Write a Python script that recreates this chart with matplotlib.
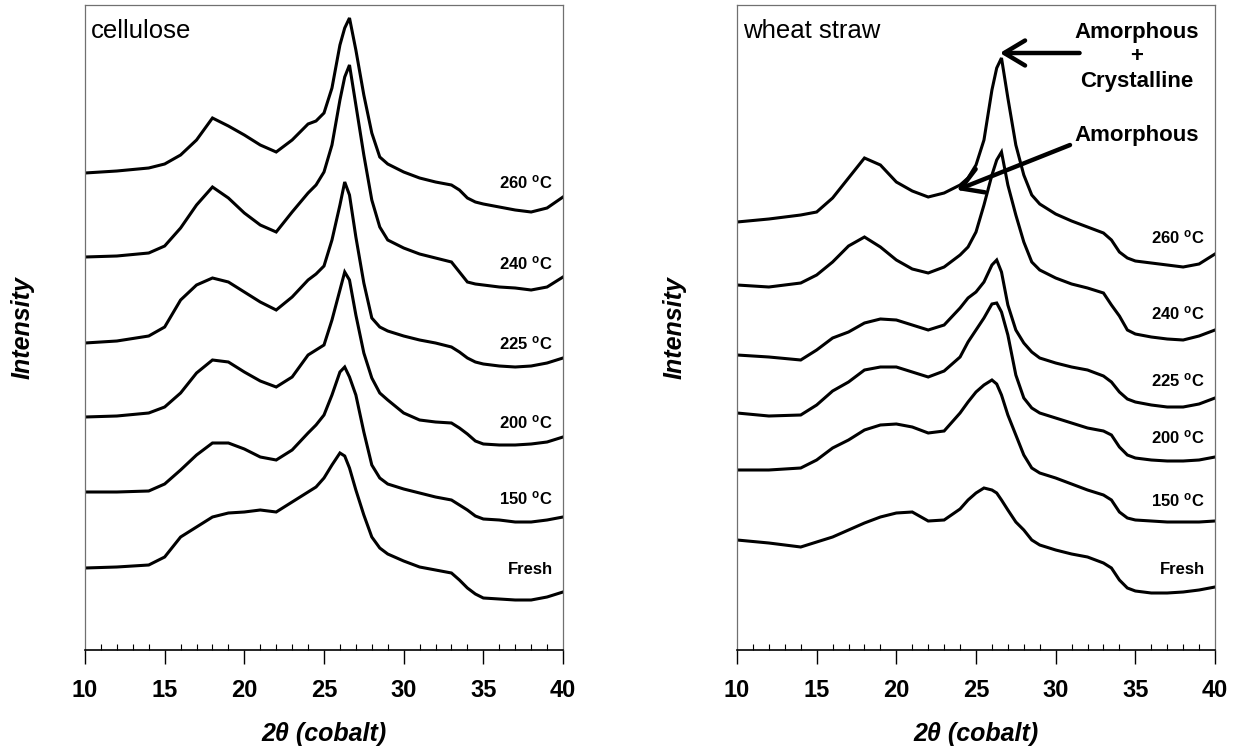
import numpy as np
from matplotlib import pyplot as plt

plt.rcParams['font.family'] = ['Liberation Sans', 'DejaVu Sans']
plt.rcParams['mathtext.fontset'] = 'custom'
plt.rcParams['mathtext.bf'] = 'Liberation Sans:bold'
plt.rcParams['mathtext.rm'] = 'Liberation Sans'
plt.rcParams['mathtext.default'] = 'bf'

# 2theta positions where the patterns were read
two_theta = [10, 12, 14, 15, 16, 17, 18, 19, 20, 21, 22, 23, 24, 24.5, 25, 25.5, 26, 26.3, 26.6,
             27, 27.5, 28, 28.5, 29, 30, 31, 32, 33, 33.5, 34, 34.5, 35, 36, 37, 38, 39, 40]

labels = ['260', '240', '225', '200', '150', 'Fresh']

# cellulose intensities (stacked, arbitrary units)
cel_260 = [477, 479, 482, 486, 495, 510, 532, 524, 515, 505, 498, 510, 526, 529, 537, 562, 605, 622, 632,
           600, 555, 517, 493, 486, 478, 472, 468, 465, 460, 452, 448, 446, 443, 440, 438, 442, 453]
cel_240 = [393, 394, 397, 404, 422, 445, 463, 452, 437, 425, 418, 438, 457, 465, 478, 505, 550, 573, 585,
           545, 495, 450, 423, 410, 402, 396, 392, 388, 378, 368, 366, 365, 363, 362, 360, 363, 373]
cel_225 = [307, 309, 314, 323, 350, 365, 372, 368, 358, 348, 340, 353, 370, 376, 384, 410, 445, 468, 455,
           413, 367, 332, 323, 319, 314, 310, 307, 303, 298, 292, 288, 286, 284, 283, 284, 287, 292]
cel_200 = [233, 234, 237, 243, 257, 277, 290, 288, 278, 269, 263, 273, 295, 300, 305, 330, 360, 378, 370,
           335, 297, 272, 257, 250, 237, 230, 228, 227, 222, 216, 209, 206, 205, 205, 206, 208, 213]
cel_150 = [158, 158, 159, 166, 180, 195, 207, 207, 201, 193, 190, 200, 217, 225, 235, 255, 278, 283, 273,
           255, 218, 185, 172, 166, 161, 157, 153, 150, 145, 140, 134, 131, 130, 128, 128, 130, 133]
cel_fresh = [82, 83, 85, 93, 113, 123, 133, 137, 138, 140, 138, 148, 158, 163, 172, 185, 197, 194, 182,
             160, 135, 113, 102, 96, 89, 83, 80, 77, 70, 62, 56, 52, 51, 50, 50, 53, 58]

# wheat straw intensities (stacked, arbitrary units)
ws_260 = [428, 431, 435, 438, 452, 472, 492, 485, 468, 459, 453, 457, 465, 472, 485, 510, 560, 582, 592,
          552, 505, 475, 455, 446, 436, 429, 423, 417, 410, 398, 392, 389, 387, 385, 383, 386, 396]
ws_240 = [365, 363, 367, 375, 388, 404, 413, 403, 390, 381, 377, 383, 395, 403, 418, 445, 475, 490, 498,
          465, 435, 408, 388, 380, 372, 366, 362, 357, 345, 334, 320, 316, 313, 311, 310, 314, 320]
ws_225 = [295, 293, 290, 300, 312, 318, 327, 331, 330, 325, 320, 325, 342, 352, 358, 368, 385, 390, 378,
          345, 320, 307, 298, 292, 287, 283, 280, 274, 268, 258, 251, 248, 245, 243, 243, 246, 252]
ws_200 = [237, 234, 235, 245, 259, 268, 280, 283, 283, 278, 273, 279, 293, 308, 320, 332, 346, 347, 338,
          315, 275, 252, 242, 237, 232, 227, 222, 219, 215, 203, 195, 192, 190, 189, 189, 190, 193]
ws_150 = [180, 180, 182, 190, 202, 210, 220, 225, 226, 223, 217, 219, 237, 248, 258, 265, 270, 266, 255,
          235, 215, 195, 182, 177, 172, 166, 160, 155, 150, 138, 132, 130, 129, 128, 128, 128, 129]
ws_fresh = [110, 107, 103, 108, 113, 120, 127, 133, 137, 138, 129, 130, 141, 150, 157, 162, 160, 157, 150,
            140, 128, 120, 110, 105, 100, 96, 93, 87, 82, 70, 62, 59, 57, 57, 58, 60, 63]

cel_label_y = [468, 387, 307, 228, 152, 80]
ws_label_y = [413, 337, 270, 213, 150, 80]

panels = [
    ('cellulose', [cel_260, cel_240, cel_225, cel_200, cel_150, cel_fresh], cel_label_y),
    ('wheat straw', [ws_260, ws_240, ws_225, ws_200, ws_150, ws_fresh], ws_label_y),
]

fig = plt.figure(figsize=(12.42, 7.5), dpi=100)
axes = [fig.add_axes([85 / 1242, 100 / 750, 478 / 1242, 645 / 750]),
        fig.add_axes([737 / 1242, 100 / 750, 478 / 1242, 645 / 750])]

for ax, (name, curves, label_y) in zip(axes, panels):
    for yy, lab, ly in zip(curves, labels, label_y):
        ax.plot(two_theta, yy, color='black', lw=2.2, solid_joinstyle='miter')
        txt = lab if lab == 'Fresh' else lab + r' $^{o}$C'
        ax.text(39.35, ly, txt, ha='right', va='center', fontsize=12, fontweight='bold')

    ax.text(0.012, 0.978, name, transform=ax.transAxes, ha='left', va='top', fontsize=18.5)

    ax.set_xlim(10, 40)
    ax.set_ylim(0, 645)
    ax.set_yticks([])
    ax.set_xticks(np.arange(10, 41, 5))
    ax.set_xticks(np.arange(10, 41, 1), minor=True)
    ax.tick_params(axis='x', which='major', direction='out', length=10, width=1, pad=11,
                   labelsize=17)
    ax.tick_params(axis='x', which='minor', direction='in', length=4.5, width=0.8)
    for lbl in ax.get_xticklabels():
        lbl.set_fontweight('bold')
    for side in ['left', 'top', 'right']:
        ax.spines[side].set_color('#707070')
        ax.spines[side].set_linewidth(0.9)
    ax.spines['bottom'].set_color('black')
    ax.spines['bottom'].set_linewidth(1.2)

    ax.set_xlabel('2θ (cobalt)', fontsize=18, fontweight='bold', fontstyle='italic', labelpad=14)
    ax.set_ylabel('Intensity', fontsize=18, fontweight='bold', fontstyle='italic')
    ax.yaxis.set_label_coords(-0.105, 0.5)

# annotations on the wheat straw panel
ax = axes[1]
ax.text(35.1, 593, 'Amorphous\n+\nCrystalline', ha='center', va='center', fontsize=16,
        fontweight='bold', linespacing=1.2)
ax.text(35.1, 515, 'Amorphous', ha='center', va='center', fontsize=16, fontweight='bold')
ax.annotate('', xy=(26.5, 597), xytext=(31.5, 597),
            arrowprops=dict(arrowstyle='->,head_length=0.75,head_width=0.45', lw=3.2,
                            color='black', mutation_scale=20, shrinkA=0, shrinkB=0))
ax.annotate('', xy=(23.8, 460), xytext=(30.9, 505),
            arrowprops=dict(arrowstyle='->,head_length=0.75,head_width=0.45', lw=3.2,
                            color='black', mutation_scale=20, shrinkA=0, shrinkB=0))

fig.savefig('out.png', dpi=100)
